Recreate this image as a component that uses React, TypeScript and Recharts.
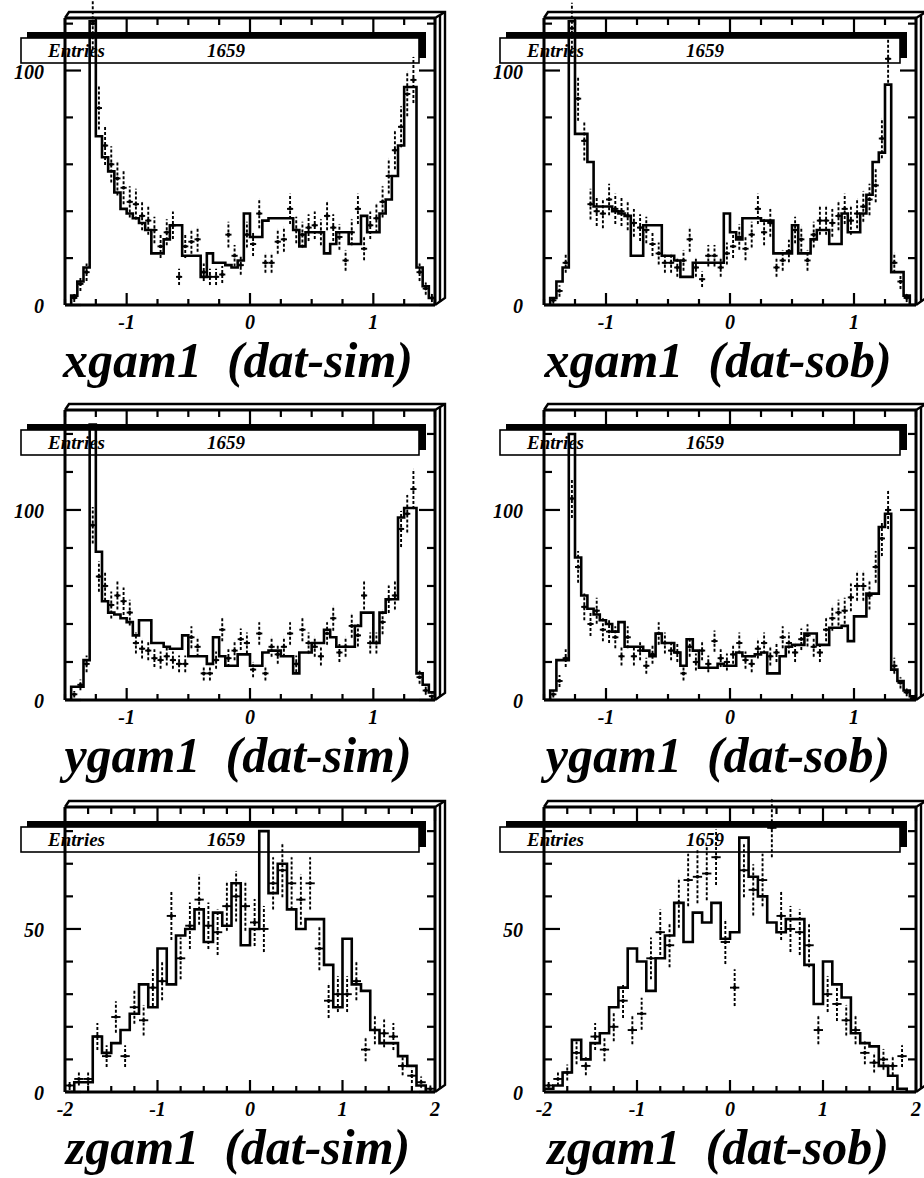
import React from 'react';
import { ComposedChart, Line, Scatter, ErrorBar, XAxis, YAxis } from 'recharts';

const FONT = '"Liberation Serif", "Times New Roman", Times, serif';

// bin contents: 60 bins on [-1.5, 1.5] for xgam1 / ygam1, 40 bins on [-2, 2] for zgam1
const xSimHist = [
  0, 4, 10, 16, 121, 72, 63, 57, 48, 41,
  39, 37, 35, 32, 22, 22, 28, 34, 34, 21,
  21, 21, 12, 22, 18, 18, 17, 16, 19, 39,
  29, 29, 36, 37, 37, 37, 37, 32, 25, 31,
  31, 31, 22, 26, 31, 31, 26, 26, 38, 31,
  31, 39, 45, 55, 68, 93, 93, 16, 8, 3,
];
const xSimDat = [
  0, 3, 9, 14, 120, 84, 68, 60, 54, 50,
  44, 43, 38, 36, 32, 25, 31, 34, 12, 25,
  27, 28, 14, 12, 12, 13, 30, 21, 17, 30,
  26, 39, 18, 18, 27, 28, 41, 32, 30, 33,
  34, 31, 38, 33, 29, 19, 31, 41, 24, 34,
  37, 44, 55, 66, 76, 90, 96, 14, 7, 3,
];
const xSobHist = [
  0, 3, 10, 16, 121, 73, 73, 61, 42, 42,
  42, 40, 39, 38, 21, 21, 34, 34, 34, 21,
  21, 19, 12, 12, 18, 18, 18, 18, 18, 39,
  31, 28, 37, 37, 37, 36, 36, 22, 22, 22,
  34, 22, 22, 28, 32, 32, 26, 26, 39, 31,
  31, 39, 47, 61, 65, 94, 14, 14, 4, 0,
];
const xSobDat = [
  0, 2, 6, 18, 118, 88, 70, 43, 40, 39,
  45, 41, 40, 38, 35, 33, 32, 26, 22, 18,
  18, 16, 19, 28, 16, 11, 21, 21, 16, 22,
  25, 29, 24, 30, 41, 31, 35, 16, 19, 23,
  32, 28, 19, 30, 36, 36, 35, 38, 41, 36,
  39, 42, 45, 51, 71, 105, 18, 10, 3, 0,
];
const ySimHist = [
  0, 7, 7, 21, 145, 78, 52, 46, 45, 43,
  41, 34, 42, 42, 30, 30, 28, 27, 27, 34,
  23, 23, 23, 19, 33, 23, 18, 18, 24, 24,
  18, 18, 25, 26, 26, 23, 23, 14, 25, 25,
  30, 30, 37, 33, 28, 28, 28, 39, 46, 46,
  30, 46, 53, 53, 96, 101, 101, 14, 8, 4,
];
const ySimDat = [
  0, 3, 8, 19, 92, 65, 60, 50, 55, 52,
  46, 30, 27, 26, 22, 21, 23, 21, 19, 19,
  33, 28, 14, 14, 21, 37, 22, 26, 32, 30,
  16, 35, 14, 28, 24, 28, 35, 19, 37, 30,
  28, 23, 35, 43, 25, 28, 39, 34, 55, 30,
  30, 41, 53, 55, 90, 98, 111, 12, 5, 2,
];
const ySobHist = [
  0, 5, 21, 21, 140, 75, 55, 48, 45, 42,
  40, 36, 41, 28, 28, 28, 26, 23, 35, 30,
  30, 25, 18, 32, 26, 17, 17, 17, 19, 18,
  18, 25, 23, 23, 24, 25, 14, 14, 23, 28,
  29, 29, 35, 35, 29, 29, 38, 38, 39, 31,
  44, 44, 56, 56, 91, 98, 16, 10, 5, 2,
];
const ySobDat = [
  0, 3, 10, 22, 106, 70, 49, 40, 47, 37,
  36, 33, 23, 33, 23, 26, 18, 24, 35, 30,
  26, 25, 14, 28, 20, 26, 19, 31, 22, 20,
  24, 30, 21, 19, 27, 30, 23, 25, 33, 30,
  25, 32, 34, 28, 25, 37, 43, 46, 47, 54,
  60, 60, 55, 70, 85, 100, 18, 9, 4, 1,
];
const zSimHist = [
  0, 3, 3, 17, 12, 15, 19, 24, 33, 26,
  44, 33, 48, 50, 56, 46, 55, 51, 64, 45,
  50, 80, 61, 70, 56, 50, 53, 53, 39, 26,
  47, 33, 31, 19, 15, 15, 11, 8, 2, 0,
];
const zSimDat = [
  2, 4, 4, 17, 11, 23, 11, 26, 22, 32,
  34, 54, 41, 51, 59, 51, 49, 57, 60, 57,
  52, 50, 64, 68, 64, 59, 64, 44, 28, 30,
  30, 34, 13, 19, 18, 17, 8, 5, 3, 1,
];
const zSobHist = [
  1, 2, 6, 16, 10, 15, 18, 26, 32, 44,
  40, 31, 41, 48, 58, 46, 55, 52, 58, 47,
  49, 78, 66, 60, 52, 49, 53, 53, 39, 27,
  40, 33, 29, 18, 15, 14, 8, 5, 1, 0,
];
const zSobDat = [
  2, 4, 6, 12, 8, 17, 13, 20, 28, 19,
  24, 41, 49, 45, 58, 65, 66, 67, 72, 46,
  32, 68, 62, 65, 81, 54, 50, 49, 45, 19,
  30, 27, 22, 19, 12, 9, 10, 8, 11, 0,
];

const XY_RANGE = [-1.5, 1.5];
const Z_RANGE = [-2, 2];
const XY_TICKS = [-1.5, -1.25, -1, -0.75, -0.5, -0.25, 0, 0.25, 0.5, 0.75, 1, 1.25, 1.5];
const Z_TICKS = [-2, -1.75, -1.5, -1.25, -1, -0.75, -0.5, -0.25, 0, 0.25, 0.5, 0.75, 1, 1.25, 1.5, 1.75, 2];
const COUNT_TICKS_X = [0, 20, 40, 60, 80, 100, 120];
const COUNT_TICKS_Y = [0, 20, 40, 60, 80, 100, 120, 140];
const COUNT_TICKS_Z = [0, 10, 20, 30, 40, 50, 60, 70, 80];
const COUNT_LABELS_XY = [0, 100];
const COUNT_LABELS_Z = [0, 50];
const ENTRIES = 1659;

// plot-area boxes in page pixels
const COLS = [
  { left: 0, x0: 65, x1: 435 },
  { left: 462, x0: 544, x1: 916 },
];
const ROWS = [
  { y0: 18, y1: 305, yMax: 122.4 },
  { y0: 410, y1: 700, yMax: 152.6 },
  { y0: 807, y1: 1092, yMax: 87.4 },
];

const PANELS = [
  { title: 'xgam1  (dat-sim)', hist: xSimHist, dat: xSimDat, range: XY_RANGE, xTicks: XY_TICKS, yTicks: COUNT_TICKS_X, yLabels: COUNT_LABELS_XY, col: 0, row: 0 },
  { title: 'xgam1  (dat-sob)', hist: xSobHist, dat: xSobDat, range: XY_RANGE, xTicks: XY_TICKS, yTicks: COUNT_TICKS_X, yLabels: COUNT_LABELS_XY, col: 1, row: 0 },
  { title: 'ygam1  (dat-sim)', hist: ySimHist, dat: ySimDat, range: XY_RANGE, xTicks: XY_TICKS, yTicks: COUNT_TICKS_Y, yLabels: COUNT_LABELS_XY, col: 0, row: 1 },
  { title: 'ygam1  (dat-sob)', hist: ySobHist, dat: ySobDat, range: XY_RANGE, xTicks: XY_TICKS, yTicks: COUNT_TICKS_Y, yLabels: COUNT_LABELS_XY, col: 1, row: 1 },
  { title: 'zgam1  (dat-sim)', hist: zSimHist, dat: zSimDat, range: Z_RANGE, xTicks: Z_TICKS, yTicks: COUNT_TICKS_Z, yLabels: COUNT_LABELS_Z, col: 0, row: 2 },
  { title: 'zgam1  (dat-sob)', hist: zSobHist, dat: zSobDat, range: Z_RANGE, xTicks: Z_TICKS, yTicks: COUNT_TICKS_Z, yLabels: COUNT_LABELS_Z, col: 1, row: 2 },
];

const AXIS = { stroke: '#000', strokeWidth: 3 };
const TXT = { fontFamily: FONT, fontWeight: 700, fontStyle: 'italic' as const, fill: '#000' };

// axis boxes: bottom/left hold the labels, top/right are 1px strips
const BOTTOM_H = 30;
const LEFT_W = 40;

// PAW style: every tick points into the frame
const bottomTick = (p: any) => {
  const v = p.payload.value as number;
  const major = Number.isInteger(v);
  return (
    <g>
      <line x1={p.x} x2={p.x} y1={p.y} y2={p.y - (major ? 12 : 6)} stroke="#000" strokeWidth={2.2} />
      {major && (
        <text x={p.x} y={p.y + 24} textAnchor="middle" fontSize={20} {...TXT}>
          {v}
        </text>
      )}
    </g>
  );
};

const topTick = (p: any) => {
  const v = p.payload.value as number;
  const major = Number.isInteger(v);
  return <line x1={p.x} x2={p.x} y1={p.y} y2={p.y + (major ? 14 : 7)} stroke="#000" strokeWidth={2.2} />;
};

const leftTick = (labels: number[]) => (p: any) => {
  const v = p.payload.value as number;
  const major = labels.includes(v);
  return (
    <g>
      <line x1={p.x} x2={p.x + (major ? 16 : 8)} y1={p.y} y2={p.y} stroke="#000" strokeWidth={2.2} />
      {major && (
        <text x={p.x - 21} y={p.y + 8} textAnchor="end" fontSize={20} {...TXT}>
          {v}
        </text>
      )}
    </g>
  );
};

const rightTick = (labels: number[]) => (p: any) => {
  const v = p.payload.value as number;
  const major = labels.includes(v);
  return <line x1={p.x} x2={p.x - (major ? 16 : 8)} y1={p.y} y2={p.y} stroke="#000" strokeWidth={2.2} />;
};

const dotShape = (p: any) => <circle cx={p.cx} cy={p.cy} r={1.8} fill="#000" />;

type PanelCfg = (typeof PANELS)[number];

const Panel = ({ p }: { p: PanelCfg }) => {
  const c = COLS[p.col];
  const r = ROWS[p.row];
  const W = 462;
  const H = r.y1 - r.y0 + 60;
  const [lo, hi] = p.range;
  const bw = (hi - lo) / p.hist.length;

  // histogram outline: one point per bin edge, closed down to zero at both ends
  const steps = [
    { x: lo, y: 0 },
    ...p.hist.map((v, i) => ({ x: lo + i * bw, y: v })),
    { x: hi, y: 0 },
  ];
  // data points with poisson errors, horizontal bar spans the bin
  const pts = p.dat
    .map((v, i) => ({ x: lo + (i + 0.5) * bw, y: v, ey: Math.sqrt(v), ex: bw / 2 }))
    .filter(d => d.y > 0);

  return (
    <div style={{ position: 'absolute', left: c.left, top: r.y0 - 20, width: W, height: H }}>
      <ComposedChart
        width={W}
        height={H}
        margin={{
          top: 19,
          bottom: 40 - BOTTOM_H,
          left: c.x0 - c.left - LEFT_W,
          right: c.left + W - c.x1 - 1,
        }}
      >
        <XAxis
          xAxisId="b"
          dataKey="x"
          type="number"
          domain={[lo, hi]}
          ticks={p.xTicks}
          interval={0}
          height={BOTTOM_H}
          tickSize={0}
          tickMargin={0}
          tickLine={false}
          axisLine={AXIS}
          tick={bottomTick}
          allowDataOverflow
        />
        <XAxis
          xAxisId="t"
          orientation="top"
          dataKey="x"
          type="number"
          domain={[lo, hi]}
          ticks={p.xTicks}
          interval={0}
          height={1}
          tickSize={0}
          tickMargin={0}
          tickLine={false}
          axisLine={AXIS}
          tick={topTick}
          allowDataOverflow
        />
        <YAxis
          yAxisId="l"
          type="number"
          domain={[0, r.yMax]}
          ticks={p.yTicks}
          interval={0}
          width={LEFT_W}
          tickSize={0}
          tickMargin={0}
          tickLine={false}
          axisLine={AXIS}
          tick={leftTick(p.yLabels)}
          allowDataOverflow
        />
        <YAxis
          yAxisId="r"
          orientation="right"
          type="number"
          domain={[0, r.yMax]}
          ticks={p.yTicks}
          interval={0}
          width={1}
          tickSize={0}
          tickMargin={0}
          tickLine={false}
          axisLine={AXIS}
          tick={rightTick(p.yLabels)}
          allowDataOverflow
        />
        <Line
          xAxisId="b"
          yAxisId="l"
          data={steps}
          dataKey="y"
          type="stepAfter"
          stroke="#000"
          strokeWidth={2.6}
          dot={false}
          activeDot={false}
          isAnimationActive={false}
        />
        <Scatter
          xAxisId="b"
          yAxisId="l"
          data={pts}
          dataKey="y"
          fill="#000"
          shape={dotShape}
          isAnimationActive={false}
        >
          <ErrorBar
            dataKey="ey"
            direction="y"
            width={0}
            stroke="#000"
            strokeWidth={1.9}
            strokeDasharray="3 2"
            isAnimationActive={false}
          />
          <ErrorBar
            dataKey="ex"
            direction="x"
            width={0}
            stroke="#000"
            strokeWidth={1.9}
            isAnimationActive={false}
          />
        </Scatter>
      </ComposedChart>
    </div>
  );
};

// raised box edges, statistics box and caption drawn over each frame
const Decor = () => (
  <svg
    width={924}
    height={1178}
    style={{ position: 'absolute', left: 0, top: 0, pointerEvents: 'none' }}
  >
    {PANELS.map((p, k) => {
      const c = COLS[p.col];
      const r = ROWS[p.row];
      const { x0, x1 } = c;
      const { y0, y1 } = r;
      const bx0 = x0 - 44;
      const bx1 = x1 - 16;
      const by0 = y0 + 20;
      return (
        <g key={k}>
          <g fill="none" stroke="#000" strokeWidth={2.4}>
            <polyline points={`${x0},${y0} ${x0 + 4},${y0 - 6} ${x1 + 10},${y0 - 6} ${x1 + 10},${y1 - 7} ${x1},${y1}`} />
            <line x1={x1} y1={y0} x2={x1 + 10} y2={y0 - 6} />
            <line x1={x1 + 5} y1={y0 - 3} x2={x1 + 5} y2={y1 - 3} />
          </g>
          <rect x={bx0 + 6} y={by0 - 6} width={bx1 - bx0 + 1} height={6} fill="#000" />
          <rect x={bx1} y={by0 - 6} width={7} height={26} fill="#000" />
          <rect x={bx0} y={by0} width={bx1 - bx0} height={25} fill="none" stroke="#000" strokeWidth={1.6} />
          <text x={bx0 + 27} y={by0 + 19} fontSize={19} {...TXT}>
            Entries
          </text>
          <text x={bx0 + 186} y={by0 + 19} fontSize={19} {...TXT}>
            {ENTRIES}
          </text>
          <text
            x={(x0 + x1) / 2 - 12}
            y={y1 + 72}
            textAnchor="middle"
            fontSize={50}
            style={{ whiteSpace: 'pre' }}
            {...TXT}
          >
            {p.title}
          </text>
        </g>
      );
    })}
  </svg>
);

const App = () => (
  <div
    style={{
      position: 'absolute',
      left: 0,
      top: 0,
      width: 924,
      height: 1178,
      background: '#fff',
      overflow: 'hidden',
    }}
  >
    {PANELS.map((p, k) => (
      <Panel key={k} p={p} />
    ))}
    <Decor />
  </div>
);

export default App;
